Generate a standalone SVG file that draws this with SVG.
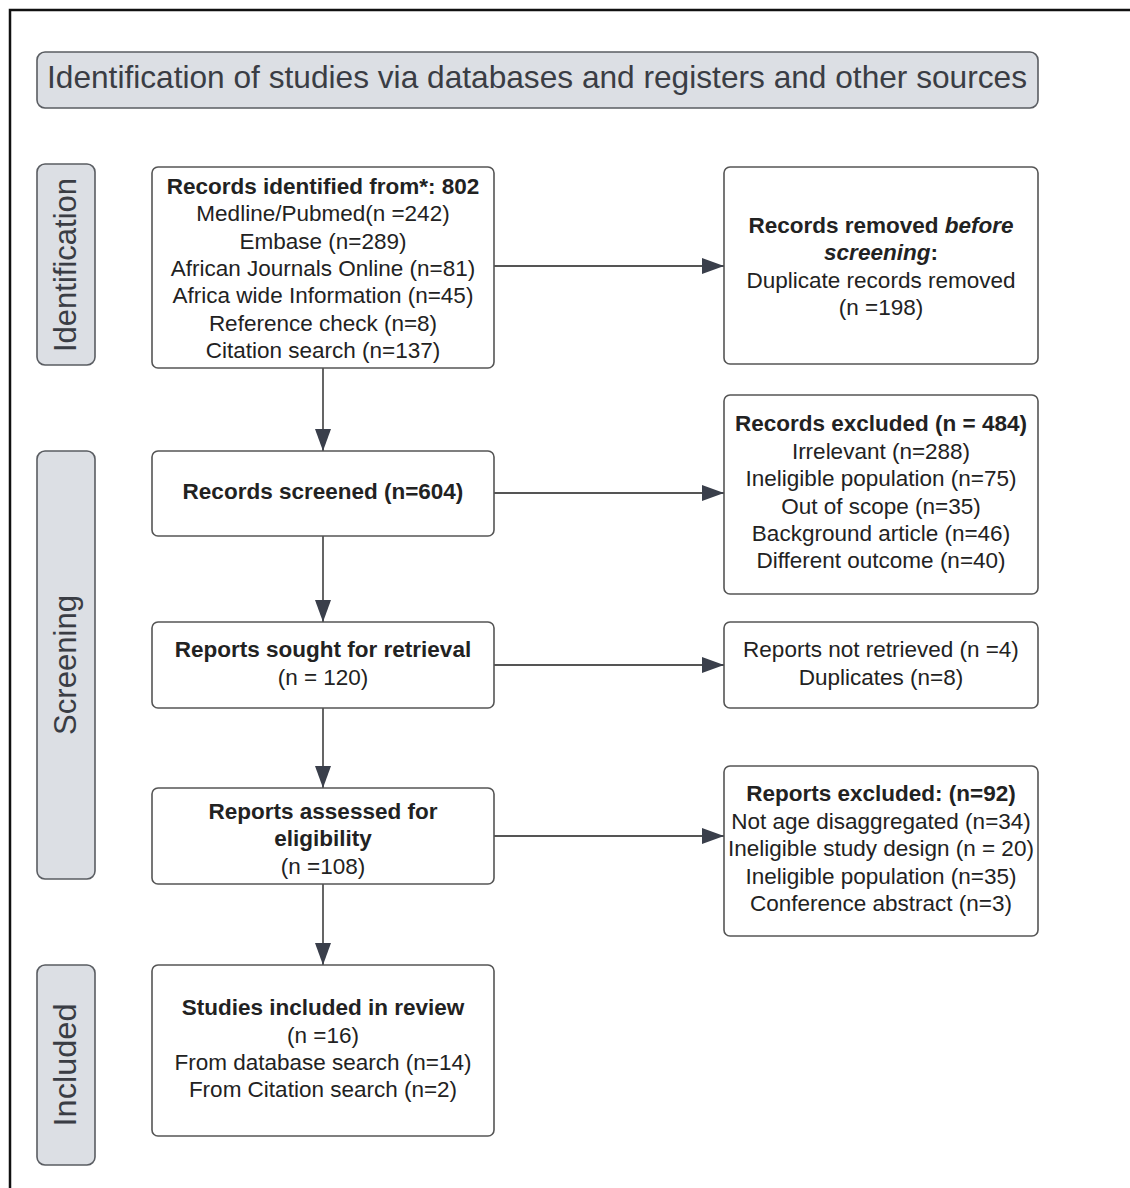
<svg xmlns="http://www.w3.org/2000/svg" width="1130" height="1188" viewBox="0 0 1130 1188">
<style>
.frame{fill:none;stroke:#111;stroke-width:2.5}
.box{fill:#fff;stroke:#555;stroke-width:1.6}
.lab{fill:#dcdfe4;stroke:#5a5d62;stroke-width:1.6}
.t{font-family:"Liberation Sans",Arial,sans-serif;font-size:22.5px;fill:#222;text-anchor:middle}
.b{font-weight:bold}
.big{font-family:"Liberation Sans",Arial,sans-serif;font-size:32px;fill:#3a3d44;text-anchor:middle}
.con{stroke:#555;stroke-width:1.8;fill:none}
</style>
<defs>
<marker id="ah2" markerWidth="22" markerHeight="16" refX="22" refY="8" orient="auto" markerUnits="userSpaceOnUse" viewBox="0 0 22 16">
<path d="M0,0 L22,8 L0,16 Z" fill="#3a3f4b"/>
</marker>
</defs>
<rect width="1130" height="1188" fill="#fff"/>
<path class="frame" d="M10,1188 L10,10 L1130,10"/>

<g id="header">
<rect class="lab" x="37" y="52" width="1001" height="56" rx="8"/>
<text class="big" x="537" y="88" textLength="980" lengthAdjust="spacingAndGlyphs">Identification of studies via databases and registers and other sources</text>
</g>

<g id="label-identification">
<rect class="lab" x="37" y="164" width="58" height="201" rx="8"/>
<text class="big" transform="translate(76,265) rotate(-90)" textLength="174" lengthAdjust="spacingAndGlyphs">Identification</text>
</g>
<g id="label-screening">
<rect class="lab" x="37" y="451" width="58" height="428" rx="8"/>
<text class="big" transform="translate(76,665) rotate(-90)" textLength="140" lengthAdjust="spacingAndGlyphs">Screening</text>
</g>
<g id="label-included">
<rect class="lab" x="37" y="965" width="58" height="200" rx="8"/>
<text class="big" transform="translate(76,1065) rotate(-90)" textLength="123" lengthAdjust="spacingAndGlyphs">Included</text>
</g>

<g id="records-identified">
<rect class="box" x="152" y="167" width="342" height="201" rx="6"/>
<text class="t b" x="323" y="194">Records identified from*: 802</text>
<text class="t" x="323" y="221">Medline/Pubmed(n =242)</text>
<text class="t" x="323" y="249">Embase (n=289)</text>
<text class="t" x="323" y="276">African Journals Online (n=81)</text>
<text class="t" x="323" y="303">Africa wide Information (n=45)</text>
<text class="t" x="323" y="331">Reference check (n=8)</text>
<text class="t" x="323" y="358">Citation search (n=137)</text>
</g>

<g id="records-removed">
<rect class="box" x="724" y="167" width="314" height="197" rx="6"/>
<text class="t b" x="881" y="233">Records removed <tspan font-style="italic">before</tspan></text>
<text class="t b" x="881" y="260"><tspan font-style="italic">screening</tspan>:</text>
<text class="t" x="881" y="288">Duplicate records removed</text>
<text class="t" x="881" y="315">(n =198)</text>
</g>

<g id="records-screened">
<rect class="box" x="152" y="451" width="342" height="85" rx="6"/>
<text class="t b" x="323" y="499">Records screened (n=604)</text>
</g>

<g id="records-excluded">
<rect class="box" x="724" y="395" width="314" height="199" rx="6"/>
<text class="t b" x="881" y="431">Records excluded (n = 484)</text>
<text class="t" x="881" y="459">Irrelevant (n=288)</text>
<text class="t" x="881" y="486">Ineligible population (n=75)</text>
<text class="t" x="881" y="514">Out of scope (n=35)</text>
<text class="t" x="881" y="541">Background article (n=46)</text>
<text class="t" x="881" y="568">Different outcome (n=40)</text>
</g>

<g id="reports-sought">
<rect class="box" x="152" y="622" width="342" height="86" rx="6"/>
<text class="t b" x="323" y="657">Reports sought for retrieval</text>
<text class="t" x="323" y="685">(n = 120)</text>
</g>

<g id="reports-not-retrieved">
<rect class="box" x="724" y="622" width="314" height="86" rx="6"/>
<text class="t" x="881" y="657">Reports not retrieved (n =4)</text>
<text class="t" x="881" y="685">Duplicates (n=8)</text>
</g>

<g id="reports-assessed">
<rect class="box" x="152" y="788" width="342" height="96" rx="6"/>
<text class="t b" x="323" y="819">Reports assessed for</text>
<text class="t b" x="323" y="846">eligibility</text>
<text class="t" x="323" y="874">(n =108)</text>
</g>

<g id="reports-excluded">
<rect class="box" x="724" y="766" width="314" height="170" rx="6"/>
<text class="t b" x="881" y="801">Reports excluded: (n=92)</text>
<text class="t" x="881" y="829">Not age disaggregated (n=34)</text>
<text class="t" x="881" y="856">Ineligible study design (n = 20)</text>
<text class="t" x="881" y="884">Ineligible population (n=35)</text>
<text class="t" x="881" y="911">Conference abstract (n=3)</text>
</g>

<g id="studies-included">
<rect class="box" x="152" y="965" width="342" height="171" rx="6"/>
<text class="t b" x="323" y="1015">Studies included in review</text>
<text class="t" x="323" y="1043">(n =16)</text>
<text class="t" x="323" y="1070">From database search (n=14)</text>
<text class="t" x="323" y="1097">From Citation search (n=2)</text>
</g>

<g id="connectors">
<line class="con" x1="323" y1="368" x2="323" y2="451" marker-end="url(#ah2)"/>
<line class="con" x1="323" y1="536" x2="323" y2="622" marker-end="url(#ah2)"/>
<line class="con" x1="323" y1="708" x2="323" y2="788" marker-end="url(#ah2)"/>
<line class="con" x1="323" y1="884" x2="323" y2="965" marker-end="url(#ah2)"/>
<line class="con" x1="494" y1="266" x2="724" y2="266" marker-end="url(#ah2)"/>
<line class="con" x1="494" y1="493" x2="724" y2="493" marker-end="url(#ah2)"/>
<line class="con" x1="494" y1="665" x2="724" y2="665" marker-end="url(#ah2)"/>
<line class="con" x1="494" y1="836" x2="724" y2="836" marker-end="url(#ah2)"/>
</g>
</svg>
